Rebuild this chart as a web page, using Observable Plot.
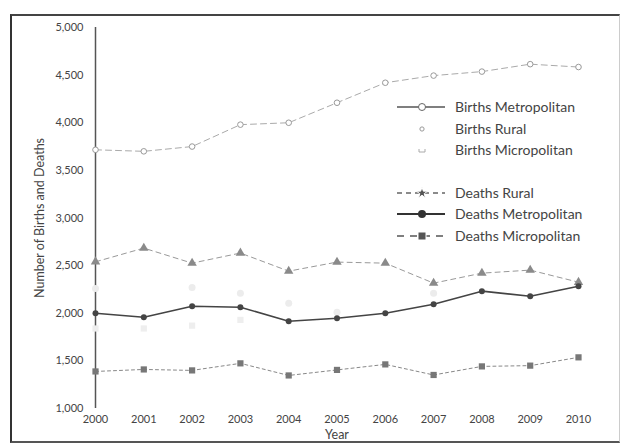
<!DOCTYPE html>
<html>
<head>
<meta charset="utf-8">
<script src="https://cdn.jsdelivr.net/npm/d3@7"></script>
<script src="https://cdn.jsdelivr.net/npm/@observablehq/plot@0.6"></script>
<style>
  html, body { margin: 0; padding: 0; background: #fff; }
  #wrap { position: relative; width: 626px; height: 444px; overflow: hidden; font-family: Lato, "Open Sans", sans-serif; }
  #frame { position: absolute; left: 10px; top: 14px; width: 610px; height: 429px;
           border-left: 2px solid #333; border-top: 2px solid #444; border-bottom: 2px solid #555; border-right: 1px solid #ccc; box-sizing: border-box; }
  #legend { position: absolute; left: 395px; top: 96px; font-size: 14px; color: #444; }
  .row { position: absolute; left: 0; height: 20px; white-space: nowrap; }
  .row svg { position: absolute; left: 0; top: 0; }
  .row span { position: absolute; left: 60px; top: 1px; }
</style>
</head>
<body>
<div id="wrap">
  <div id="frame"></div>
  <div id="chart"></div>
  <div id="legend"></div>
</div>
<script>
const years = [2000, 2001, 2002, 2003, 2004, 2005, 2006, 2007, 2008, 2009, 2010];
const birthsMetropolitan = [3716, 3700, 3750, 3980, 4000, 4210, 4420, 4495, 4537, 4615, 4585];
const birthsRural = [2260, null, 2270, 2210, 2105, 2010, null, 2210, null, null, null];
const birthsMicropolitan = [1840, 1840, 1870, 1930, null, null, null, null, null, null, null];
const deathsRural = [2540, 2684, 2526, 2632, 2442, 2537, 2526, 2316, 2421, 2453, 2326];
const deathsMetropolitan = [2000, 1958, 2074, 2063, 1916, 1947, 2000, 2095, 2232, 2179, 2284];
const deathsMicropolitan = [1389, 1410, 1400, 1474, 1347, 1405, 1463, 1352, 1442, 1450, 1537];
const yTicks = [1000, 1500, 2000, 2500, 3000, 3500, 4000, 4500, 5000];
const seriesNames = ["Births Metropolitan", "Births Rural", "Births Micropolitan", "Deaths Rural", "Deaths Metropolitan", "Deaths Micropolitan"];

const rows = (vals) => years.map((y, i) => ({year: y, value: vals[i]})).filter(d => d.value != null);

const chart = Plot.plot({
  width: 626,
  height: 444,
  marginLeft: 95,
  marginRight: 48,
  marginTop: 27,
  marginBottom: 36,
  style: { fontFamily: "Lato, 'Open Sans', sans-serif", fontSize: "11px", color: "#444", background: "transparent" },
  x: { domain: [2000, 2010], ticks: years, tickFormat: d => String(d), tickSize: 0, tickPadding: 7, label: "Year", labelAnchor: "center", labelOffset: 30, labelArrow: "none" },
  y: { domain: [1000, 5000], ticks: yTicks, tickFormat: d3.format(","), tickSize: 0, tickPadding: 12, label: "Number of Births and Deaths", labelAnchor: "center", labelOffset: 60, labelArrow: "none" },
  marks: [
    Plot.ruleX([2000], { y1: 1000, y2: 5000, stroke: "#555", strokeWidth: 1.5 }),
    // Births Metropolitan
    Plot.line(rows(birthsMetropolitan), { x: "year", y: "value", stroke: "#aaa", strokeWidth: 1, strokeDasharray: "6,4" }),
    Plot.dot(rows(birthsMetropolitan), { x: "year", y: "value", r: 2.8, stroke: "#999", fill: "#fff", strokeWidth: 1 }),
    // Births Rural / Micropolitan (very faint)
    Plot.dot(rows(birthsRural), { x: "year", y: "value", r: 3.5, fill: "#ececec", stroke: "none" }),
    Plot.dot(rows(birthsMicropolitan), { x: "year", y: "value", r: 3.5, fill: "#eeeeee", stroke: "none", symbol: "square" }),
    // Deaths Rural
    Plot.line(rows(deathsRural), { x: "year", y: "value", stroke: "#999", strokeWidth: 1, strokeDasharray: "5,4" }),
    Plot.dot(rows(deathsRural), { x: "year", y: "value", symbol: "triangle", r: 3.5, fill: "#8a8a8a", stroke: "none" }),
    // Deaths Metropolitan
    Plot.line(rows(deathsMetropolitan), { x: "year", y: "value", stroke: "#444", strokeWidth: 1.6 }),
    Plot.dot(rows(deathsMetropolitan), { x: "year", y: "value", r: 3, fill: "#444", stroke: "none" }),
    // Deaths Micropolitan
    Plot.line(rows(deathsMicropolitan), { x: "year", y: "value", stroke: "#888", strokeWidth: 1, strokeDasharray: "3,3" }),
    Plot.dot(rows(deathsMicropolitan), { x: "year", y: "value", symbol: "square", r: 3.5, fill: "#777", stroke: "none" })
  ]
});
d3.select(chart).selectAll('g[aria-label="y-axis label"], g[aria-label="x-axis label"]').attr("font-size", "12.5px");
document.getElementById("chart").appendChild(chart);

// Legend
const legendStyles = [
  { top: 1,   line: "#555", dash: null,  sym: "circleOpen", color: "#666" },
  { top: 23,  line: null,   dash: null,  sym: "small", color: "#999" },
  { top: 44,  line: null,   dash: null,  sym: "smallSq", color: "#aaa" },
  { top: 87,  line: "#666", dash: "5,4", sym: "star", color: "#555" },
  { top: 108, line: "#333", dash: null,  sym: "circle", color: "#333" },
  { top: 130, line: "#555", dash: "7,6", sym: "square", color: "#555" }
];
const legend = d3.select("#legend");
seriesNames.forEach((name, i) => {
  const s = legendStyles[i];
  const row = legend.append("div").attr("class", "row").style("top", s.top + "px");
  const svg = row.append("svg").attr("width", 56).attr("height", 20);
  if (s.line) svg.append("line").attr("x1", 2).attr("x2", 50).attr("y1", 10).attr("y2", 10)
      .attr("stroke", s.line).attr("stroke-width", s.sym === "circle" ? 2 : 1.3).attr("stroke-dasharray", s.dash);
  const cx = 27, cy = 10;
  if (s.sym === "circleOpen") svg.append("circle").attr("cx", cx).attr("cy", cy).attr("r", 3.5).attr("fill", "#fff").attr("stroke", s.color);
  if (s.sym === "circle") svg.append("circle").attr("cx", cx).attr("cy", cy).attr("r", 4).attr("fill", s.color);
  if (s.sym === "small") svg.append("path").attr("d", d3.symbol(d3.symbolCircle, 14)()).attr("transform", `translate(${cx},${cy})`).attr("fill", "none").attr("stroke", s.color);
  if (s.sym === "smallSq") svg.append("path").attr("d", "M-3,-1 L-3,2 L3,2 L3,-1").attr("transform", `translate(${cx},${cy})`).attr("fill", "none").attr("stroke", s.color);
  if (s.sym === "star") svg.append("path").attr("d", d3.symbol(d3.symbolStar, 40)()).attr("transform", `translate(${cx},${cy})`).attr("fill", s.color).attr("stroke", "#fff").attr("stroke-width", 1);
  if (s.sym === "square") svg.append("rect").attr("x", cx - 4).attr("y", cy - 4).attr("width", 8).attr("height", 8).attr("fill", s.color).attr("stroke", "#fff").attr("stroke-width", 1);
  row.append("span").text(name);
});
</script>
</body>
</html>
